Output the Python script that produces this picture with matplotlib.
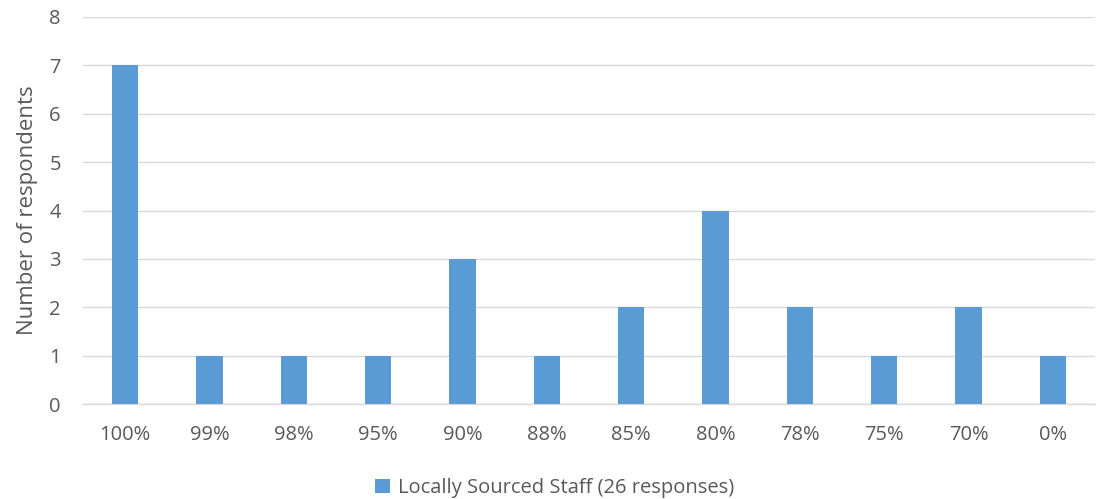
import matplotlib
matplotlib.use("Agg")
import matplotlib.pyplot as plt
from matplotlib.patches import Patch

categories = ["100%", "99%", "98%", "95%", "90%", "88%", "85%", "80%", "78%", "75%", "70%", "0%"]
values = [7, 1, 1, 1, 3, 1, 2, 4, 2, 1, 2, 1]
series_name = "Locally Sourced Staff (26 responses)"
y_ticks = [0, 1, 2, 3, 4, 5, 6, 7, 8]

plt.rcParams['font.family'] = ['Open Sans', 'DejaVu Sans']
bar_color = "#5B9BD5"
text_color = "#595959"

fig = plt.figure(figsize=(10.99, 4.99), dpi=100)
ax = fig.add_axes([83/1099, 1 - 404/499, (1095-83)/1099, (404-17)/499])

x = list(range(len(categories)))
ax.bar(x, values, width=0.31, color=bar_color, zorder=3)
ax.set_xlim(-0.5, len(categories) - 0.5)
ax.set_ylim(0, 8)
ax.set_yticks(y_ticks)
ax.set_xticks(x)
ax.set_xticklabels(categories)
ax.grid(axis='y', color="#D9D9D9", linewidth=1, zorder=0)
for s in ["top", "right", "left"]:
    ax.spines[s].set_visible(False)
ax.spines["bottom"].set_color("#D9D9D9")
ax.spines["bottom"].set_linewidth(1)
ax.tick_params(axis='x', length=0, labelsize=14.5, colors=text_color, pad=15)
ax.tick_params(axis='y', length=0, labelsize=14.5, colors=text_color, pad=16)
ax.set_ylabel("Number of respondents", fontsize=16, color=text_color, labelpad=8)

handles = [Patch(facecolor=bar_color, label=series_name)]
fig.legend(handles=handles, loc='center', bbox_to_anchor=(555/1099, 1 - 488/499),
           frameon=False, fontsize=14.5, labelcolor=text_color, handlelength=0.75,
           handleheight=0.75, handletextpad=0.4)

fig.savefig("out.png", dpi=100)
